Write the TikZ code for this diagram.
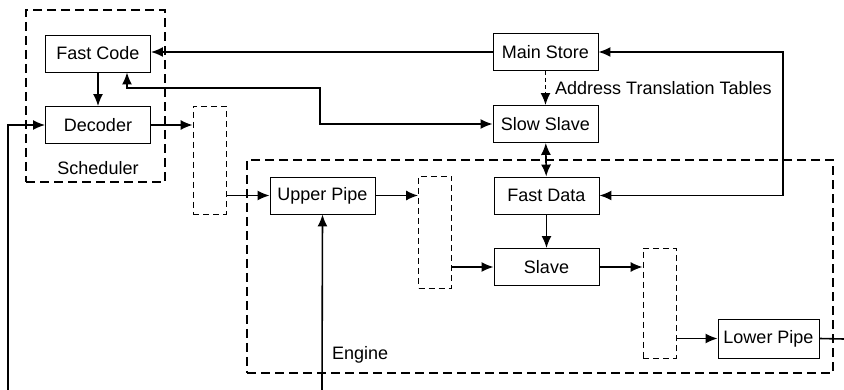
\documentclass[tikz,border=0pt]{standalone}
\usepackage{fontspec}
\setmainfont{Liberation Sans}
\usetikzlibrary{arrows.meta}

\tikzset{
    blk/.style={draw, line width=.9pt, minimum width=105pt, minimum height=37pt, inner sep=0pt},
    latch/.style={draw, dash pattern=on 6pt off 4pt, line width=.7pt, minimum width=33pt, inner sep=0pt},
    group/.style={draw, dash pattern=on 9pt off 5pt, line width=1.5pt, inner sep=0pt},
    flow/.style={line width=1.6pt, -{Latex[length=12pt,width=10pt]}},
    both/.style={line width=1.6pt, {Latex[length=12pt,width=10pt]}-{Latex[length=12pt,width=10pt]}}
}

\begin{document}
\begin{tikzpicture}[x=1pt, y=-1pt, font=\fontsize{18}{21}\selectfont]
            \useasboundingbox (0,0) rectangle (844,390);
            % Groups
            \node[group, minimum width=139pt, minimum height=172pt] (sched) at (95.5,96) {};
            \node[group, minimum width=586pt, minimum height=213pt] (engine) at (540,266.5) {};
            \node (schedlbl) at (98,168) {Scheduler};
            \node[anchor=west, inner sep=0pt] (englbl) at (332,355) {Engine};
            % Units
            \foreach \nm/\txt/\x/\y in {fastcode/Fast Code/98/53.5, decoder/Decoder/98/125,
                mainstore/Main Store/545.5/52, slowslave/Slow Slave/545.5/124,
                fastdata/Fast Data/546.5/195.5, upperpipe/Upper Pipe/322.5/195.5,
                slave/Slave/546.5/267} {
                \node[blk] (\nm) at (\x,\y) {\txt};
            }
            \node[blk, minimum width=101pt, minimum height=39pt] (lowerpipe) at (768.5,338.5) {Lower Pipe};
            % Latches
            \node[latch, minimum height=108pt] (latch1) at (209.5,160) {};
            \node[latch, minimum height=112pt] (latch2) at (435,232) {};
            \node[latch, minimum height=110pt] (latch3) at (659.5,303) {};
            \node[anchor=west, inner sep=0pt] (atlbl) at (555,88) {Address Translation Tables};
            % Free ends and bends
            \coordinate (leftin) at (8,390);
            \coordinate (engin) at (322,390);
            \coordinate (lowout) at (844,339);
            \coordinate (rtop) at (783,52);
            \coordinate (bendA) at (320,88);
            % Arrows
            \draw[flow] (fastcode) -- (decoder);
            \draw[flow] (leftin) |- (decoder.west);
            \draw[flow] (decoder.east) -- (decoder.east -| latch1.west);
            \draw[flow] (upperpipe.west -| latch1.east) -- (upperpipe.west);
            \draw[flow] (engin) -- (upperpipe.south);
            \draw[flow] (upperpipe.east) -- (upperpipe.east -| latch2.west);
            \draw[flow] (slave.west -| latch2.east) -- (slave.west);
            \draw[flow] (fastdata) -- (slave);
            \draw[flow] (slave.east) -- (slave.east -| latch3.west);
            \draw[flow] (lowerpipe.west -| latch3.east) -- (lowerpipe.west);
            \draw[line width=1.6pt] (lowerpipe.east) -- (lowout);
            \draw[flow] (mainstore.west) -- (mainstore.west -| fastcode.east);
            \draw[flow, dash pattern=on 4pt off 3pt] (mainstore) -- (slowslave);
            \draw[both] (slowslave) -- (fastdata);
            \draw[both] (fastdata.east) -| (rtop) -- (mainstore.east);
            \draw[both] (slowslave.west) -| (bendA) -| ([xshift=29pt]fastcode.south);
\end{tikzpicture}
\end{document}
